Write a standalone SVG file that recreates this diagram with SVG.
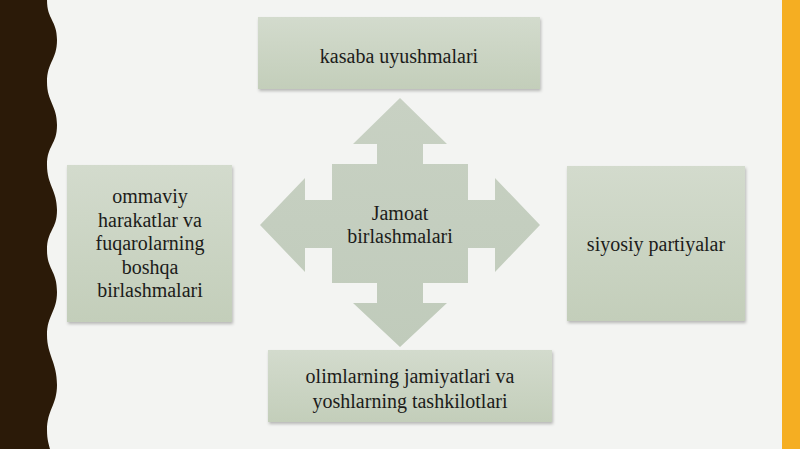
<svg xmlns="http://www.w3.org/2000/svg" width="800" height="449" viewBox="0 0 800 449">
  <defs>
    <linearGradient id="boxg" x1="0" y1="0" x2="0" y2="1">
      <stop offset="0" stop-color="#d3dbcd"/>
      <stop offset="1" stop-color="#c3ceba"/>
    </linearGradient>
    <linearGradient id="arrg" x1="0" y1="0" x2="0" y2="1">
      <stop offset="0" stop-color="#c8d1c3"/>
      <stop offset="1" stop-color="#c0cbbb"/>
    </linearGradient>
    <filter id="sh" x="-10%" y="-10%" width="120%" height="125%">
      <feDropShadow dx="1" dy="2" stdDeviation="1.5" flood-color="#000" flood-opacity="0.25"/>
    </filter>
  </defs>
  <style>
    .box { fill: url(#boxg); filter: url(#sh); }
    .arr { fill: url(#arrg); }
    .t { font-family: 'Liberation Serif', 'Times New Roman', 'DejaVu Serif', serif; font-size: 20px; fill: #1c1c1a; text-anchor: middle; }
  </style>
  <rect width="800" height="449" fill="#f3f4f2"/>
  <rect x="782" y="0" width="18" height="449" fill="#f5ae22"/>
  <path id="wave" fill="#2b1a08" d="M0,0 L47,0 C47,20 57,20 57,40 C57,60 47,62 47,82 C47,102 57,105 57,125 C57,145 47,145 47,165 C47,185 57,190 57,210 C57,230 47,230 47,250 C47,270 57,270 57,292 C57,312 47,315 47,335 C47,355 57,362 57,385 C57,405 47,410 47,430 C47,440 49,445 50,449 L0,449 Z"/>

  <g id="connectors">
    <path class="arr" d="M400,98 L447,144 L423,144 L423,164 L468,164 L468,200 L495,200 L495,178 L540,225 L495,272 L495,248 L468,248 L468,283 L423,283 L423,303 L447,303 L400,347 L353,303 L377,303 L377,283 L332,283 L332,248 L305,248 L305,272 L260,225 L305,178 L305,200 L332,200 L332,164 L377,164 L377,144 L353,144 Z"/>
  </g>

  <g id="center">
    <text class="t" x="400" y="220" font-family="Liberation Serif, serif">Jamoat</text>
    <text class="t" x="400" y="243" font-family="Liberation Serif, serif">birlashmalari</text>
  </g>

  <g id="top">
    <rect class="box" x="258" y="17" width="282" height="72"/>
    <text class="t" x="399" y="63">kasaba uyushmalari</text>
  </g>

  <g id="left">
    <rect class="box" x="67" y="165" width="165" height="157"/>
    <text class="t" x="150" y="203">ommaviy</text>
    <text class="t" x="150" y="227">harakatlar va</text>
    <text class="t" x="150" y="250">fuqarolarning</text>
    <text class="t" x="150" y="274">boshqa</text>
    <text class="t" x="150" y="297">birlashmalari</text>
  </g>

  <g id="right">
    <rect class="box" x="567" y="166" width="178" height="155"/>
    <text class="t" x="656" y="251">siyosiy partiyalar</text>
  </g>

  <g id="bottom">
    <rect class="box" x="268" y="350" width="284" height="72"/>
    <text class="t" x="410" y="383">olimlarning jamiyatlari va</text>
    <text class="t" x="410" y="408">yoshlarning tashkilotlari</text>
  </g>
</svg>
